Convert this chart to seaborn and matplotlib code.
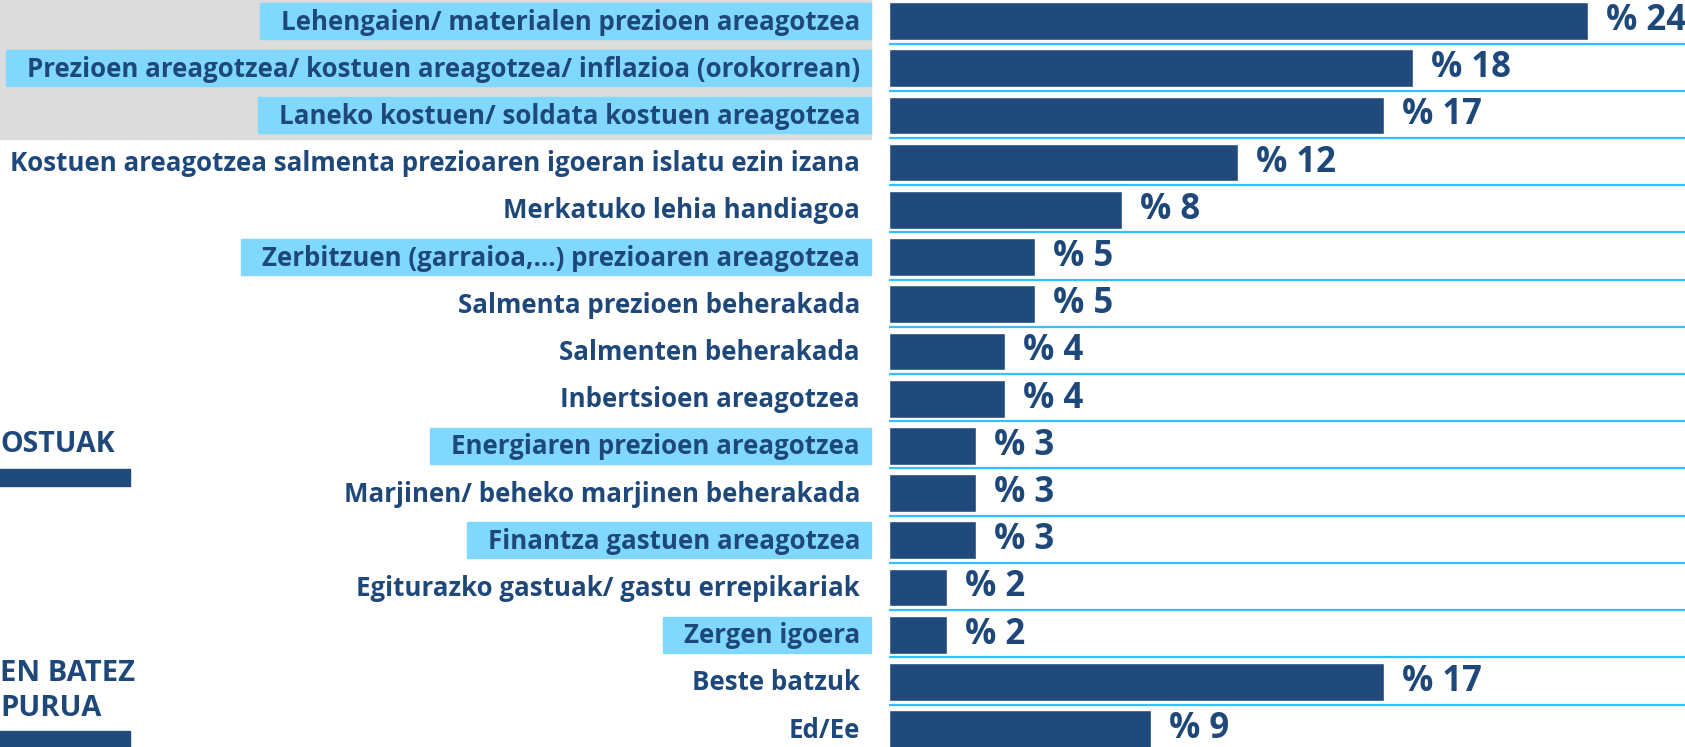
import matplotlib
matplotlib.use("Agg")
import matplotlib.pyplot as plt
import matplotlib.transforms as mtransforms
from matplotlib.patches import Rectangle
import seaborn as sns

sns.set_theme(style="white")
plt.rcParams["font.family"] = ["Open Sans", "DejaVu Sans"]

# ---------------------------------------------------------
# Data
# ---------------------------------------------------------
categories = [
    "Lehengaien/ materialen prezioen areagotzea",
    "Prezioen areagotzea/ kostuen areagotzea/ inflazioa (orokorrean)",
    "Laneko kostuen/ soldata kostuen areagotzea",
    "Kostuen areagotzea salmenta prezioaren igoeran islatu ezin izana",
    "Merkatuko lehia handiagoa",
    "Zerbitzuen (garraioa,…) prezioaren areagotzea",
    "Salmenta prezioen beherakada",
    "Salmenten beherakada",
    "Inbertsioen areagotzea",
    "Energiaren prezioen areagotzea",
    "Marjinen/ beheko marjinen beherakada",
    "Finantza gastuen areagotzea",
    "Egiturazko gastuak/ gastu errepikariak",
    "Zergen igoera",
    "Beste batzuk",
    "Ed/Ee",
]
values = [24, 18, 17, 12, 8, 5, 5, 4, 4, 3, 3, 3, 2, 2, 17, 9]
highlighted = [
    "Lehengaien/ materialen prezioen areagotzea",
    "Prezioen areagotzea/ kostuen areagotzea/ inflazioa (orokorrean)",
    "Laneko kostuen/ soldata kostuen areagotzea",
    "Zerbitzuen (garraioa,…) prezioaren areagotzea",
    "Energiaren prezioen areagotzea",
    "Finantza gastuen areagotzea",
    "Zergen igoera",
]
side_labels = ["OSTUAK", "EN BATEZ\nPURUA"]

DARK = "#214a7c"
TEXT = "#1f487a"
BOX = "#80d8ff"
LINE = "#33c0ff"
GRAY = "#dcdcdc"

W, H = 1685, 747
fig = plt.figure(figsize=(W / 100, H / 100), dpi=100)
fig.patch.set_facecolor("white")

# gray band behind the first three rows
fig.patches.append(Rectangle((0, 1 - 139 / H), 871 / W, 139 / H,
                             transform=fig.transFigure, color=GRAY, zorder=-3))

ax = fig.add_axes([889 / W, 0, (W - 889) / W, 1])
sns.barplot(x=values, y=categories, orient="h", color=DARK, saturation=1,
            width=0.8, ax=ax, zorder=3)
ax.set_xlim(0, 27.35)
ax.set_ylim(15.38, -0.445)
ax.set_axis_off()

for i in range(len(categories)):
    ax.axhline(i + 0.48, color=LINE, lw=1.6, zorder=2)

# value labels
val_tr = mtransforms.offset_copy(ax.transData, fig=fig, x=18, y=0, units="dots")
for i, v in enumerate(values):
    ax.text(v, i, f"% {v}", transform=val_tr, ha="left", va="center",
            fontsize=25, fontweight="bold", color=TEXT, clip_on=False)

# category labels
lab_tr = mtransforms.offset_copy(ax.transData, fig=fig, x=-29, y=-1, units="dots")
label_texts = []
for i, c in enumerate(categories):
    t = ax.text(0, i, c, transform=lab_tr, ha="right", va="center",
                fontsize=18.6, fontweight="bold", color=TEXT, clip_on=False, zorder=5)
    label_texts.append(t)

# highlight boxes behind some labels
fig.canvas.draw()
renderer = fig.canvas.get_renderer()
for i, (c, t) in enumerate(zip(categories, label_texts)):
    if c in highlighted:
        bb = t.get_window_extent(renderer)
        yc = ax.transData.transform((0, i))[1]
        x0 = bb.x0 - 21
        fig.patches.append(Rectangle((x0 / W, (yc - 18) / H), (871 - x0) / W, 36 / H,
                                     transform=fig.transFigure, color=BOX, zorder=-2))

# cut-off panel headings on the far left
fig.text(0, 1 - 445 / H, side_labels[0], ha="left", va="center",
         fontsize=20.5, fontweight="bold", color=TEXT)
fig.patches.append(Rectangle((0, 1 - 486 / H), 130 / W, 17 / H,
                             transform=fig.transFigure, color=DARK))
fig.text(0, 1 - 691 / H, side_labels[1], ha="left", va="center",
         fontsize=21, fontweight="bold", color=TEXT, linespacing=1.27)
fig.patches.append(Rectangle((0, 0), 130 / W, 16 / H,
                             transform=fig.transFigure, color=DARK))

fig.savefig("out.png", dpi=100)
